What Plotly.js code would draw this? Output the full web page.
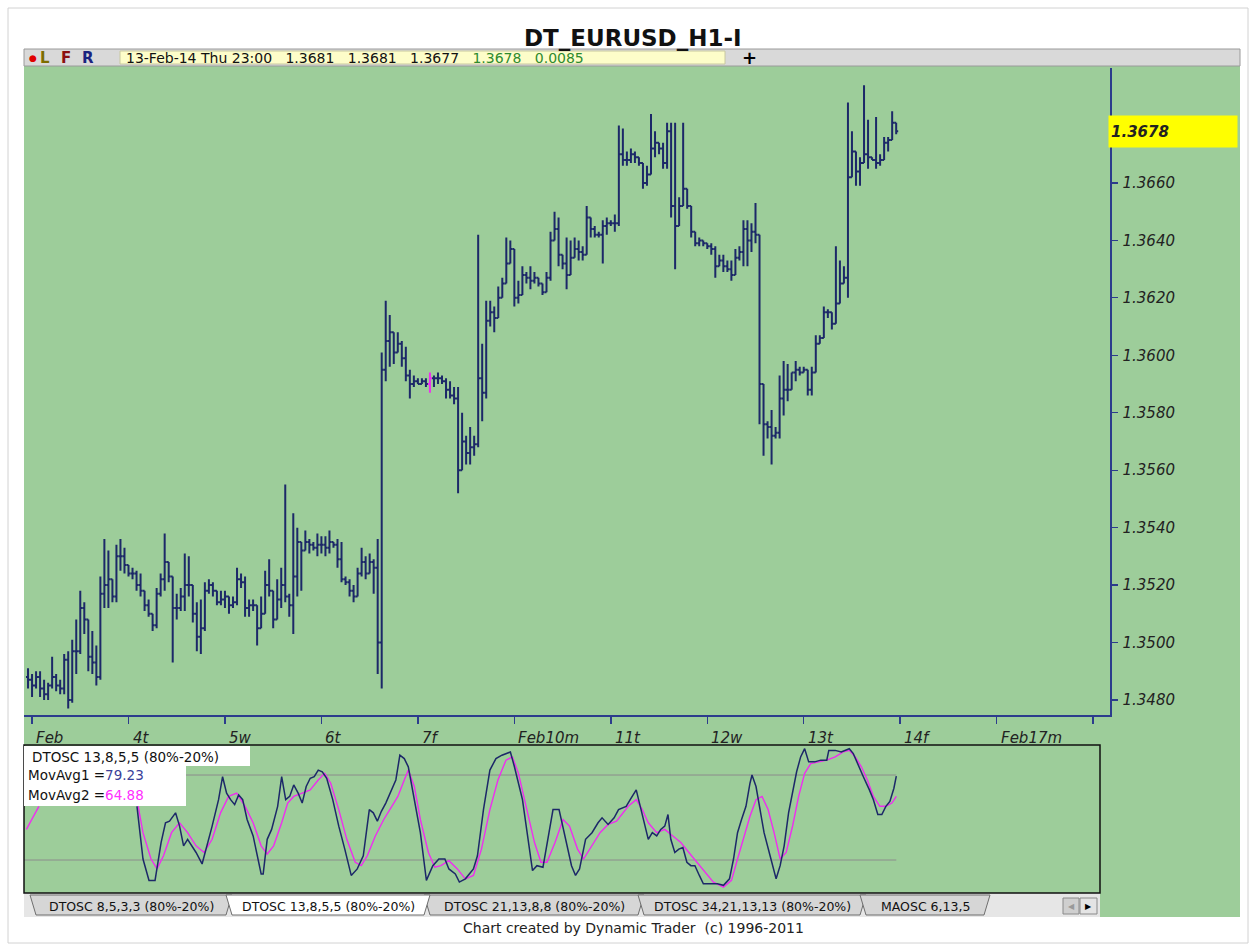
<!DOCTYPE html>
<html><head><meta charset="utf-8">
<script src="https://cdn.plot.ly/plotly-3.0.1.min.js"></script>
<style>html,body{margin:0;padding:0;background:#fff;}#chart{width:1256px;height:944px;}</style>
</head><body><div id="chart"></div>
<script>
// ---------- DATA (EURUSD hourly bars, 3 Feb 2014 00:00 .. 13 Feb 2014 23:00, one bar before) ----------
const firstBarIndex = -1;
const barOpen = [
1.3488,1.3487,1.3485,1.3488,1.3484,1.3482,1.3485,1.3488,1.3485,1.3484,
1.3494,1.3480,1.3497,1.3497,1.3512,1.3508,1.3495,1.3493,1.3488,1.3517,
1.3520,1.3522,1.3516,1.3530,1.3530,1.3527,1.3524,1.3524,1.3520,1.3518,
1.3513,1.3510,1.3506,1.3517,1.3522,1.3528,1.3523,1.3512,1.3512,1.3516,
1.3520,1.3520,1.3510,1.3502,1.3505,1.3518,1.3520,1.3518,1.3514,1.3515,
1.3516,1.3513,1.3514,1.3522,1.3521,1.3512,1.3513,1.3513,1.3505,1.3510,
1.3520,1.3518,1.3508,1.3515,1.3520,1.3516,1.3513,1.3523,1.3535,1.3532,
1.3535,1.3534,1.3533,1.3534,1.3534,1.3533,1.3535,1.3534,1.3529,1.3522,
1.3521,1.3518,1.3516,1.3524,1.3528,1.3524,1.3528,1.3526,1.3500,1.3595,
1.3605,1.3608,1.3601,1.3604,1.3599,1.3593,1.3590,1.3591,1.3590,1.3591,
1.3590,1.3592,1.3592,1.3592,1.3591,1.3588,1.3586,1.3585,1.3560,1.3570,
1.3566,1.3568,1.3569,1.3592,1.3587,1.3612,1.3615,1.3613,1.3620,1.3625,
1.3632,1.3637,1.3620,1.3621,1.3628,1.3627,1.3626,1.3627,1.3625,1.3622,
1.3627,1.3640,1.3644,1.3635,1.3632,1.3628,1.3634,1.3637,1.3636,1.3635,
1.3648,1.3644,1.3642,1.3642,1.3645,1.3646,1.3646,1.3646,1.3670,1.3668,
1.3668,1.3670,1.3669,1.3667,1.3660,1.3663,1.3672,1.3674,1.3672,1.3667,
1.3678,1.3652,1.3645,1.3652,1.3658,1.3652,1.3643,1.3639,1.3640,1.3639,
1.3638,1.3637,1.3631,1.3633,1.3631,1.3630,1.3628,1.3634,1.3636,1.3644,
1.3640,1.3643,1.3642,1.3590,1.3576,1.3575,1.3572,1.3573,1.3585,1.3588,
1.3588,1.3594,1.3595,1.3594,1.3595,1.3588,1.3594,1.3604,1.3606,1.3615,
1.3615,1.3611,1.3618,1.3625,1.3627,1.3662,1.3671,1.3664,1.3667,1.3670,
1.3669,1.3668,1.3667,1.3668,1.3674,1.3675,1.3681];
const barHigh = [
1.3491,1.3489,1.3490,1.3490,1.3487,1.3486,1.3495,1.3489,1.3487,1.3496,
1.3497,1.3501,1.3508,1.3518,1.3514,1.3508,1.3504,1.3499,1.3523,1.3536,
1.3532,1.3522,1.3534,1.3536,1.3533,1.3527,1.3526,1.3525,1.3524,1.3518,
1.3515,1.3510,1.3519,1.3524,1.3538,1.3528,1.3523,1.3517,1.3519,1.3531,
1.3530,1.3520,1.3514,1.3515,1.3521,1.3522,1.3521,1.3518,1.3518,1.3518,
1.3516,1.3516,1.3526,1.3524,1.3523,1.3515,1.3515,1.3513,1.3516,1.3525,
1.3529,1.3518,1.3522,1.3526,1.3555,1.3517,1.3545,1.3540,1.3535,1.3539,
1.3536,1.3535,1.3538,1.3537,1.3537,1.3539,1.3535,1.3536,1.3535,1.3523,
1.3522,1.3520,1.3526,1.3533,1.3530,1.3531,1.3529,1.3536,1.3601,1.3619,
1.3614,1.3608,1.3608,1.3605,1.3603,1.3595,1.3593,1.3592,1.3592,1.3592,
1.3594,1.3593,1.3594,1.3593,1.3592,1.3591,1.3589,1.3589,1.3580,1.3572,
1.3575,1.3572,1.3642,1.3604,1.3619,1.3619,1.3617,1.3624,1.3627,1.3641,
1.3640,1.3637,1.3626,1.3631,1.3629,1.3631,1.3629,1.3627,1.3625,1.3629,
1.3643,1.3650,1.3648,1.3635,1.3641,1.3640,1.3641,1.3640,1.3638,1.3652,
1.3648,1.3645,1.3643,1.3647,1.3648,1.3647,1.3649,1.3680,1.3679,1.3671,
1.3672,1.3671,1.3669,1.3667,1.3666,1.3684,1.3678,1.3674,1.3674,1.3681,
1.3681,1.3681,1.3655,1.3681,1.3658,1.3652,1.3643,1.3641,1.3640,1.3639,
1.3639,1.3638,1.3635,1.3635,1.3633,1.3633,1.3637,1.3638,1.3647,1.3647,
1.3646,1.3653,1.3642,1.3590,1.3577,1.3581,1.3575,1.3593,1.3598,1.3597,
1.3594,1.3598,1.3596,1.3596,1.3595,1.3596,1.3607,1.3607,1.3617,1.3616,
1.3615,1.3638,1.3633,1.3631,1.3688,1.3678,1.3671,1.3669,1.3694,1.3682,
1.3669,1.3683,1.3670,1.3676,1.3676,1.3685,1.3681];
const barLow = [
1.3484,1.3481,1.3484,1.3481,1.3480,1.3480,1.3484,1.3483,1.3482,1.3482,
1.3477,1.3479,1.3489,1.3496,1.3503,1.3490,1.3489,1.3485,1.3487,1.3512,
1.3512,1.3514,1.3514,1.3525,1.3524,1.3523,1.3522,1.3518,1.3516,1.3511,
1.3509,1.3504,1.3505,1.3516,1.3518,1.3521,1.3493,1.3508,1.3511,1.3511,
1.3516,1.3507,1.3497,1.3496,1.3504,1.3517,1.3516,1.3513,1.3513,1.3512,
1.3510,1.3512,1.3513,1.3519,1.3509,1.3509,1.3511,1.3499,1.3505,1.3510,
1.3516,1.3505,1.3508,1.3512,1.3514,1.3509,1.3503,1.3516,1.3518,1.3532,
1.3531,1.3532,1.3530,1.3531,1.3530,1.3531,1.3533,1.3526,1.3521,1.3520,
1.3516,1.3514,1.3516,1.3523,1.3522,1.3524,1.3517,1.3489,1.3484,1.3591,
1.3596,1.3597,1.3601,1.3596,1.3591,1.3585,1.3589,1.3590,1.3590,1.3589,
1.3587,1.3589,1.3590,1.3590,1.3585,1.3585,1.3583,1.3552,1.3560,1.3562,
1.3562,1.3565,1.3568,1.3577,1.3585,1.3610,1.3608,1.3613,1.3620,1.3625,
1.3632,1.3617,1.3618,1.3621,1.3625,1.3623,1.3625,1.3624,1.3621,1.3622,
1.3626,1.3640,1.3631,1.3630,1.3623,1.3628,1.3634,1.3633,1.3633,1.3635,
1.3641,1.3641,1.3641,1.3632,1.3642,1.3645,1.3643,1.3645,1.3666,1.3666,
1.3667,1.3667,1.3666,1.3658,1.3659,1.3663,1.3669,1.3670,1.3665,1.3665,
1.3648,1.3630,1.3645,1.3652,1.3651,1.3641,1.3638,1.3638,1.3638,1.3637,
1.3635,1.3627,1.3631,1.3629,1.3629,1.3626,1.3628,1.3633,1.3631,1.3631,
1.3636,1.3639,1.3576,1.3565,1.3571,1.3562,1.3571,1.3571,1.3579,1.3584,
1.3588,1.3591,1.3593,1.3594,1.3586,1.3586,1.3594,1.3604,1.3606,1.3613,
1.3609,1.3611,1.3618,1.3625,1.3620,1.3662,1.3659,1.3659,1.3667,1.3665,
1.3668,1.3665,1.3666,1.3668,1.3671,1.3675,1.3677];
const barClose = [
1.3487,1.3485,1.3488,1.3484,1.3482,1.3485,1.3488,1.3485,1.3484,1.3494,
1.3480,1.3497,1.3497,1.3512,1.3508,1.3495,1.3493,1.3488,1.3517,1.3520,
1.3522,1.3516,1.3530,1.3530,1.3527,1.3524,1.3524,1.3520,1.3518,1.3513,
1.3510,1.3506,1.3517,1.3522,1.3528,1.3523,1.3512,1.3512,1.3516,1.3520,
1.3520,1.3510,1.3502,1.3505,1.3518,1.3520,1.3518,1.3514,1.3515,1.3516,
1.3513,1.3514,1.3522,1.3521,1.3512,1.3513,1.3513,1.3505,1.3510,1.3520,
1.3518,1.3508,1.3515,1.3520,1.3516,1.3513,1.3523,1.3535,1.3532,1.3535,
1.3534,1.3533,1.3534,1.3534,1.3533,1.3535,1.3534,1.3529,1.3522,1.3521,
1.3518,1.3516,1.3524,1.3528,1.3524,1.3528,1.3526,1.3500,1.3595,1.3605,
1.3608,1.3601,1.3604,1.3599,1.3593,1.3590,1.3591,1.3590,1.3591,1.3590,
1.3592,1.3592,1.3592,1.3591,1.3588,1.3586,1.3585,1.3560,1.3570,1.3566,
1.3568,1.3569,1.3592,1.3587,1.3612,1.3615,1.3613,1.3620,1.3625,1.3632,
1.3637,1.3620,1.3621,1.3628,1.3627,1.3626,1.3627,1.3625,1.3622,1.3627,
1.3640,1.3644,1.3635,1.3632,1.3628,1.3634,1.3637,1.3636,1.3635,1.3648,
1.3644,1.3642,1.3642,1.3645,1.3646,1.3646,1.3646,1.3670,1.3668,1.3668,
1.3670,1.3669,1.3667,1.3660,1.3663,1.3672,1.3674,1.3672,1.3667,1.3678,
1.3652,1.3645,1.3652,1.3658,1.3652,1.3643,1.3639,1.3640,1.3639,1.3638,
1.3637,1.3631,1.3633,1.3631,1.3630,1.3628,1.3634,1.3636,1.3644,1.3640,
1.3643,1.3642,1.3590,1.3576,1.3575,1.3572,1.3573,1.3585,1.3588,1.3588,
1.3594,1.3595,1.3594,1.3595,1.3588,1.3594,1.3604,1.3606,1.3615,1.3615,
1.3611,1.3618,1.3625,1.3627,1.3662,1.3671,1.3664,1.3667,1.3670,1.3669,
1.3668,1.3667,1.3668,1.3674,1.3675,1.3681,1.3678];
const highlightBar = 99;                      // the single magenta bar on Feb 7
const dayTickIndex  = [0,24,48,72,96,120,144,168,192,216,240,264];
const dayTickLabels = ["Feb","4t","5w","6t","7f","Feb10m","11t","12w","13t","14f","Feb17m",""];
const priceTicks = [1.3480,1.3500,1.3520,1.3540,1.3560,1.3580,1.3600,1.3620,1.3640,1.3660];
const lastBarStamp = "13-Feb-14 Thu 23:00";
const lastBarChange = "0.0085";
const chartTitle = "DT_EURUSD_H1-I";

// DTOSC 13,8,5,5 : MovAvg1 (navy) and MovAvg2 (magenta), sampled along the bar index
const ma1Index = [26.1,27.6,29.1,30.6,32.1,33.2,34.2,35.7,36.7,37.7,38.7,39.8,40.8,42.3,43.3,44.8,46.4,47.4,48.4,49.4,
50.4,51.4,52.4,53.5,55.0,56.0,57.0,57.5,58.5,59.6,61.1,62.1,63.1,64.1,65.1,66.2,67.2,68.2,69.2,70.2,
71.2,72.2,73.3,74.8,76.3,77.8,79.4,80.9,82.4,83.9,84.9,85.9,86.9,88.0,89.5,90.5,91.5,92.6,93.6,95.1,
96.6,98.1,99.7,101.2,102.7,103.7,105.3,106.3,107.8,109.8,110.8,112.3,113.9,115.4,116.9,119.0,120.0,122.0,123.5,124.5,
125.6,127.1,128.6,129.6,131.1,132.7,134.2,135.2,136.2,137.7,139.3,140.8,141.8,143.3,144.8,145.9,147.8,148.8,149.8,150.3,
151.3,152.3,153.3,154.3,155.4,156.4,157.4,158.2,158.9,159.9,160.9,161.9,162.9,163.9,164.9,166.0,167.0,168.5,170.5,172.0,
173.5,174.5,175.5,176.5,177.6,178.6,179.1,180.1,181.1,182.1,183.6,185.1,186.1,187.1,188.2,189.2,190.2,191.2,192.2,193.2,
194.7,196.2,197.7,198.2,199.8,201.3,202.3,203.3,204.3,205.3,206.8,208.3,209.3,210.4,211.4,212.4,213.4,214.4,215.0];
const ma1Value = [57.9,20.7,5.6,5.6,32.3,46.3,47.4,53.3,43.9,30.0,34.6,30.0,25.3,17.2,27.7,43.9,62.6,78.8,67.2,62.6,
59.1,66.0,62.6,48.6,37.0,23.0,10.2,10.2,34.6,41.6,57.9,78.8,62.6,64.9,73.0,67.2,60.2,71.9,77.7,78.8,
83.5,82.3,77.7,62.6,43.9,27.7,9.1,13.7,23.0,55.6,53.3,47.4,54.4,60.2,69.5,76.5,94.0,91.6,85.8,62.6,
39.3,5.6,16.0,20.7,20.7,13.7,10.2,4.4,6.7,13.7,23.0,55.6,83.5,91.6,94.0,96.3,85.8,62.6,34.6,12.5,
16.0,14.9,39.3,55.6,55.6,34.6,16.0,9.1,13.7,34.6,39.3,46.3,49.8,45.1,49.8,55.6,57.9,62.6,67.2,69.5,
57.9,46.3,34.6,39.3,37.0,41.6,43.9,52.1,34.6,25.3,27.7,28.8,18.4,16.0,16.0,9.1,3.2,3.2,3.2,2.1,
6.7,20.7,39.3,48.6,57.9,74.2,80.0,71.9,55.6,39.3,23.0,6.7,16.0,30.0,53.3,67.2,82.3,92.8,98.6,89.3,
89.3,90.5,90.5,97.4,97.4,96.3,97.4,98.6,95.1,88.1,78.8,69.5,62.6,52.1,52.1,57.9,61.4,70.7,79.23];
const ma2Index = [-1.4,0.2,1.7,null,26.1,27.6,29.6,31.1,32.7,34.7,36.7,38.7,40.8,42.8,44.8,46.9,48.9,50.9,53.0,55.0,
57.0,58.5,60.1,62.1,63.6,65.1,67.2,69.2,71.2,72.8,74.3,76.3,78.3,80.4,81.9,83.4,85.4,87.5,89.5,91.0,
92.6,93.6,95.1,96.6,98.6,100.2,101.7,103.7,105.8,107.8,109.8,111.8,113.9,115.9,117.9,119.5,121.0,123.0,125.0,126.6,
128.1,130.1,132.1,133.7,135.7,137.2,139.3,141.3,143.3,145.4,148.3,150.3,151.8,153.3,155.4,157.4,159.4,161.4,163.4,165.4,
167.5,169.5,172.0,174.0,175.5,177.0,178.6,180.1,181.6,183.1,184.6,186.1,187.6,189.2,190.7,192.2,193.7,195.7,197.7,199.8,
201.8,203.3,204.8,206.3,207.8,209.3,210.9,212.4,213.9,215.0];
const ma2Value = [41.6,49.8,57.9,null,62.6,39.3,20.7,13.7,23.0,39.3,46.3,39.3,30.0,25.3,34.6,53.3,64.9,67.2,57.9,46.3,
30.0,24.2,30.0,46.3,60.2,64.9,67.2,69.5,76.5,81.2,74.2,55.6,34.6,18.4,16.0,23.0,37.0,48.6,57.9,64.9,
76.5,83.5,71.9,48.6,25.3,14.9,16.0,19.5,13.7,6.7,9.1,27.7,55.6,76.5,90.5,92.8,81.2,55.6,32.3,18.4,
18.4,32.3,48.6,44.0,27.7,20.7,30.0,39.3,45.1,47.4,57.9,62.6,55.6,46.3,39.3,41.6,37.0,32.3,25.3,18.4,
11.4,4.4,0.9,5.6,20.7,34.6,50.9,62.6,64.9,55.6,39.3,20.7,25.3,44.0,64.9,81.2,88.1,89.3,90.5,92.8,
96.3,97.4,92.8,85.8,76.5,64.9,57.9,57.9,60.2,64.88];
const oscLevels = [80,20];
const oscName = "DTOSC 13,8,5,5 (80%-20%)";
const tabNames = ["DTOSC 8,5,3,3 (80%-20%)","DTOSC 13,8,5,5 (80%-20%)","DTOSC 21,13,8,8 (80%-20%)","DTOSC 34,21,13,13 (80%-20%)","MAOSC 6,13,5"];
const selectedTab = 1;
const footerText = "Chart created by Dynamic Trader\u00a0\u00a0(c) 1996-2011";

// ---------- STYLE / LAYOUT ----------
const W = 1256, H = 944;
const px = x => x / W, py = y => 1 - y / H;
const GREEN = '#9dcd9a', NAVY = '#1c2868', AXIS = '#2c3c8c', MAG = '#f02cf0';
const UI = 'DejaVu Sans';
const SCRIPT = {family: 'DejaVu Sans', size: 15, color: '#222', style: 'italic'};

const barIdx = barClose.map((_, k) => firstBarIndex + k);
const keep = barIdx.map(i => i !== highlightBar);
const sel = (arr, f) => arr.filter((_, k) => f(k));

const traces = [
  {type: 'ohlc', xaxis: 'x', yaxis: 'y',
   x: sel(barIdx, k => keep[k]), open: sel(barOpen, k => keep[k]), high: sel(barHigh, k => keep[k]),
   low: sel(barLow, k => keep[k]), close: sel(barClose, k => keep[k]),
   increasing: {line: {color: NAVY, width: 2}}, decreasing: {line: {color: NAVY, width: 2}},
   tickwidth: 0.5, hoverinfo: 'skip', showlegend: false},
  {type: 'ohlc', xaxis: 'x', yaxis: 'y',
   x: sel(barIdx, k => !keep[k]), open: sel(barOpen, k => !keep[k]), high: sel(barHigh, k => !keep[k]),
   low: sel(barLow, k => !keep[k]), close: sel(barClose, k => !keep[k]),
   increasing: {line: {color: MAG, width: 2}}, decreasing: {line: {color: MAG, width: 2}},
   tickwidth: 0.5, hoverinfo: 'skip', showlegend: false},
  {type: 'scatter', mode: 'lines', xaxis: 'x2', yaxis: 'y2', x: ma2Index, y: ma2Value,
   line: {color: MAG, width: 1.4}, connectgaps: false, hoverinfo: 'skip', showlegend: false},
  {type: 'scatter', mode: 'lines', xaxis: 'x2', yaxis: 'y2', x: ma1Index, y: ma1Value,
   line: {color: NAVY, width: 1.5}, hoverinfo: 'skip', showlegend: false}
];

const shapes = [];
const rect = (x0, y0, x1, y1, fill, line, layer) => shapes.push({type: 'rect', xref: 'paper', yref: 'paper',
  x0: px(x0), x1: px(x1), y0: py(y1), y1: py(y0), fillcolor: fill || 'rgba(0,0,0,0)',
  line: line || {width: 0}, layer: layer || 'below'});
// page frame and backgrounds
rect(8, 8, 1248, 943, '#ffffff', {color: '#d2d2d2', width: 1});
rect(24, 66, 1240, 917, GREEN);
rect(24, 893, 1100, 917, '#e6e6e6');
// toolbar
rect(24, 49, 1240, 66, '#d9d9d9', {color: '#9a9a9a', width: 1});
rect(120, 51, 725, 64, '#fdfdc9', {color: '#c8c8a0', width: 1});
// oscillator level lines (span of the data)
oscLevels.forEach(v => shapes.push({type: 'line', xref: 'x2', yref: 'y2', x0: -2, x1: barIdx[barIdx.length - 1],
  y0: v, y1: v, line: {color: '#8c8c8c', width: 1}, layer: 'below'}));
// oscillator frame
shapes.push({type: 'rect', xref: 'paper', yref: 'paper', x0: px(24), x1: px(1100), y0: py(893), y1: py(745),
  line: {color: '#111', width: 1.5}, fillcolor: 'rgba(0,0,0,0)', layer: 'above'});
// legend boxes
rect(24, 746, 250, 766, '#ffffff', null, 'above');
rect(24, 766, 186, 806, '#ffffff', null, 'above');
// tabs
const tabX = [[30, 232], [226, 430], [424, 644], [638, 866], [860, 990]];
const tabOrder = tabX.map((_, k) => k).filter(k => k !== selectedTab).concat([selectedTab]);
tabOrder.forEach(k => {
  const [a, b] = tabX[k];
  const y0 = py(895), y1 = py(915);
  shapes.push({type: 'path', xref: 'paper', yref: 'paper', layer: 'above',
    path: `M ${px(a)} ${y0} L ${px(a + 6)} ${y1} L ${px(b - 6)} ${y1} L ${px(b)} ${y0} Z`,
    fillcolor: k === selectedTab ? '#ffffff' : '#d6d6d6', line: {color: '#6e6e6e', width: 1}});
});
rect(1063, 898, 1079, 914, '#cfcfcf', {color: '#8a8a8a', width: 1}, 'above');
rect(1080, 898, 1097, 914, '#e4e4e4', {color: '#8a8a8a', width: 1}, 'above');

// ---------- ANNOTATIONS ----------
const ann = [];
const A = (o) => ann.push(Object.assign({xref: 'paper', yref: 'paper', showarrow: false}, o));
A({x: px(633), y: py(38), text: '<b>' + chartTitle + '</b>', font: {family: UI, size: 23, color: '#111'}, xanchor: 'center', yanchor: 'middle'});
A({x: px(27), y: py(57.5), text: '<span style="color:#e00000">\u25CF</span>', font: {family: UI, size: 9}, xanchor: 'left', yanchor: 'middle'});
A({x: px(38), y: py(57.5), text: '<b>L</b>', font: {family: UI, size: 15, color: '#7d6d00'}, xanchor: 'left', yanchor: 'middle'});
A({x: px(59), y: py(57.5), text: '<b>F</b>', font: {family: UI, size: 15, color: '#8b1010'}, xanchor: 'left', yanchor: 'middle'});
A({x: px(80), y: py(57.5), text: '<b>R</b>', font: {family: UI, size: 15, color: '#1a2380'}, xanchor: 'left', yanchor: 'middle'});
const last = barClose.length - 1;
const f4 = v => v.toFixed(4);
const sp = '\u00a0\u00a0\u00a0';
A({x: px(124), y: py(57.5), xanchor: 'left', yanchor: 'middle', font: {family: UI, size: 14, color: '#111'},
   text: lastBarStamp + sp + f4(barOpen[last]) + sp + f4(barHigh[last]) + sp + f4(barLow[last]) + sp +
         '<span style="color:#2e8b2e">' + f4(barClose[last]) + sp + lastBarChange + '</span>'});
A({x: px(749), y: py(57.5), text: '<b>+</b>', font: {family: UI, size: 18, color: '#000'}, xanchor: 'center', yanchor: 'middle'});
// day labels
dayTickIndex.forEach((v, k) => { if (dayTickLabels[k]) ann.push({xref: 'x', yref: 'paper', x: v, y: py(738), xshift: 2,
  text: dayTickLabels[k], showarrow: false, xanchor: 'left', yanchor: 'middle', font: SCRIPT}); });
// last price marker
ann.push({xref: 'paper', yref: 'y', x: px(1108), y: barClose[last], xanchor: 'left', yanchor: 'middle',
  text: '<b>' + f4(barClose[last]) + '</b>', showarrow: false, bgcolor: '#ffff00', width: 124, height: 27, align: 'left',
  borderpad: 2, font: {family: 'DejaVu Sans', size: 15, color: '#222', style: 'italic'}});
// oscillator legend
A({x: px(30), y: py(756.5), text: oscName, font: {family: UI, size: 13.5, color: '#111'}, xanchor: 'left', yanchor: 'middle'});
A({x: px(26), y: py(775), text: 'MovAvg1 =<span style="color:#3a3f9a">' + ma1Value[ma1Value.length - 1].toFixed(2) + '</span>',
   font: {family: UI, size: 13.5, color: '#111'}, xanchor: 'left', yanchor: 'middle'});
A({x: px(26), y: py(795), text: 'MovAvg2 =<span style="color:#ff30ff">' + ma2Value[ma2Value.length - 1].toFixed(2) + '</span>',
   font: {family: UI, size: 13.5, color: '#111'}, xanchor: 'left', yanchor: 'middle'});
// tab captions
tabNames.forEach((t, k) => A({x: px((tabX[k][0] + tabX[k][1]) / 2), y: py(906), text: t,
  font: {family: UI, size: 12.5, color: '#111'}, xanchor: 'center', yanchor: 'middle'}));
A({x: px(1071), y: py(906), text: '\u25C0', font: {family: UI, size: 8, color: '#999'}, xanchor: 'center', yanchor: 'middle'});
A({x: px(1088.5), y: py(906), text: '\u25B6', font: {family: UI, size: 8, color: '#000'}, xanchor: 'center', yanchor: 'middle'});
A({x: px(633), y: py(928), text: footerText, font: {family: UI, size: 14, color: '#222'}, xanchor: 'center', yanchor: 'middle'});

const layout = {
  width: W, height: H, margin: {l: 0, r: 0, t: 0, b: 0, pad: 0},
  paper_bgcolor: '#ffffff', plot_bgcolor: 'rgba(0,0,0,0)', showlegend: false,
  xaxis: {domain: [px(24), px(1110)], range: [-2, 268.2], anchor: 'y', showgrid: false, zeroline: false,
    showline: true, linecolor: AXIS, linewidth: 1.5, ticks: 'outside', ticklen: 7, tickwidth: 1.5, tickcolor: AXIS,
    tickvals: dayTickIndex, showticklabels: false, rangeslider: {visible: false}, fixedrange: true},
  yaxis: {domain: [py(715), py(68)], range: [1.347476, 1.370004], anchor: 'x', side: 'right', showgrid: false,
    zeroline: false, showline: true, linecolor: AXIS, linewidth: 1.5, ticks: 'outside', ticklen: 6, tickwidth: 1.2,
    tickcolor: AXIS, tickvals: priceTicks, ticktext: priceTicks.map(f4), tickfont: SCRIPT, ticklabelstandoff: 2, fixedrange: true},
  xaxis2: {domain: [px(24), px(1100)], range: [-2, 265.67], anchor: 'y2', visible: false, fixedrange: true},
  yaxis2: {domain: [py(893), py(745)], range: [-3.3, 101.2], anchor: 'x2', visible: false, fixedrange: true},
  shapes: shapes, annotations: ann
};
Plotly.newPlot('chart', traces, layout, {staticPlot: true, displayModeBar: false});
</script></body></html>
